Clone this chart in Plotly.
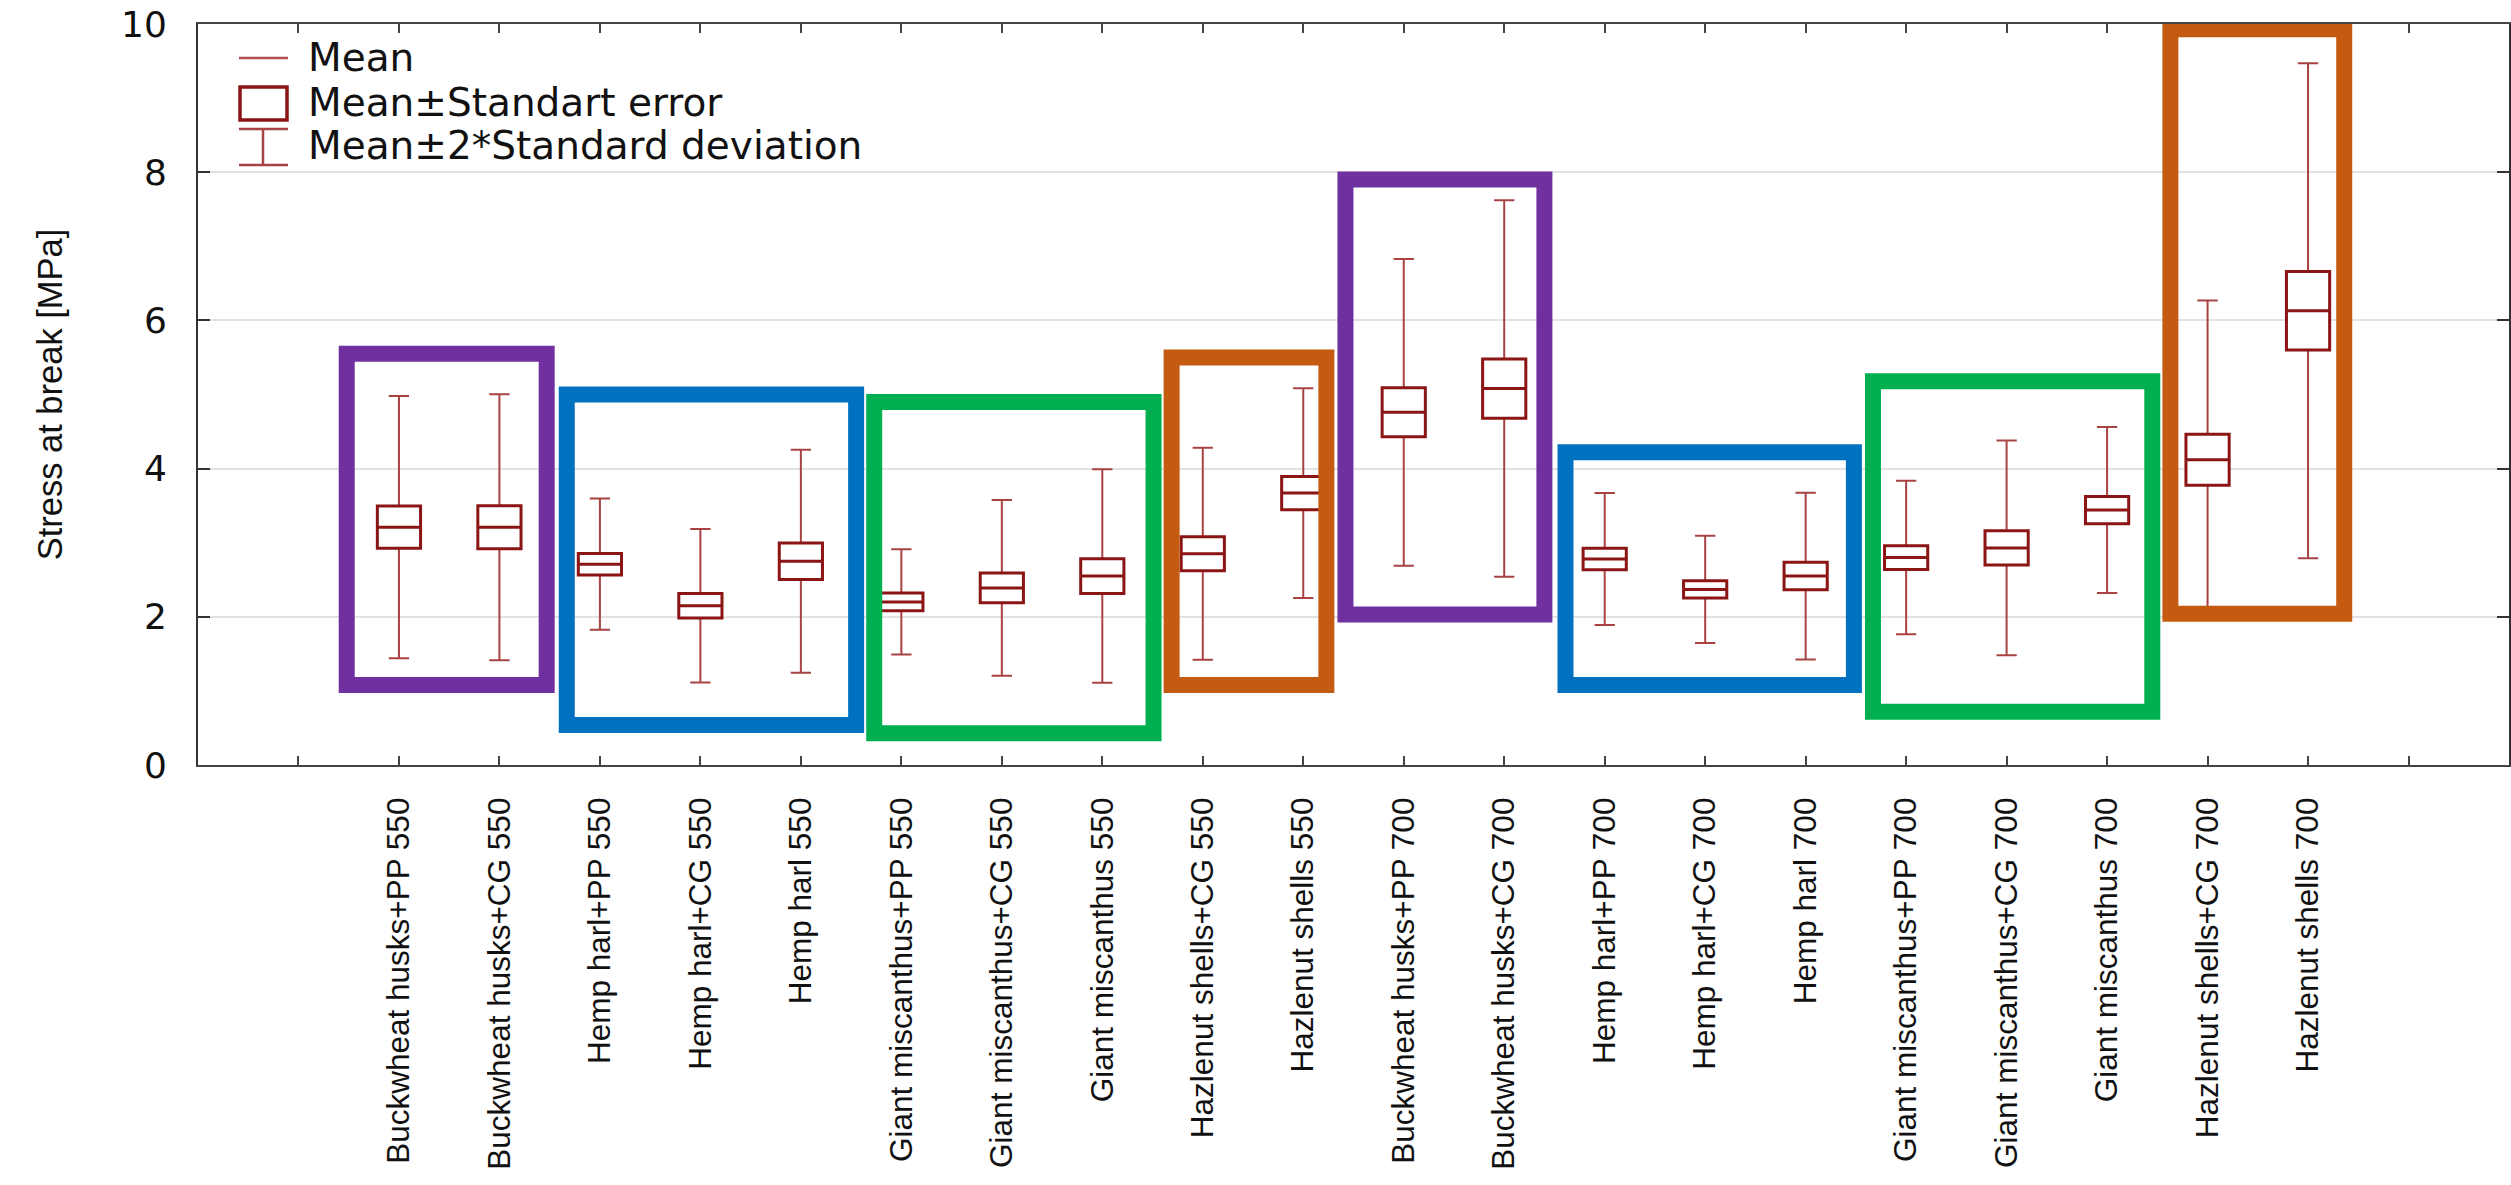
import plotly.graph_objects as go

# Sample groups on the x axis
categories = [
    "Buckwheat husks+PP 550", "Buckwheat husks+CG 550",
    "Hemp harl+PP 550", "Hemp harl+CG 550", "Hemp harl 550",
    "Giant miscanthus+PP 550", "Giant miscanthus+CG 550", "Giant miscanthus 550",
    "Hazlenut shells+CG 550", "Hazlenut shells 550",
    "Buckwheat husks+PP 700", "Buckwheat husks+CG 700",
    "Hemp harl+PP 700", "Hemp harl+CG 700", "Hemp harl 700",
    "Giant miscanthus+PP 700", "Giant miscanthus+CG 700", "Giant miscanthus 700",
    "Hazlenut shells+CG 700", "Hazlenut shells 700",
]

# Stress at break [MPa]: mean, standard error and 2*standard deviation
mean = [3.21, 3.21, 2.71, 2.15, 2.75, 2.20, 2.39, 2.55, 2.85, 3.67,
        4.76, 5.08, 2.78, 2.37, 2.55, 2.80, 2.93, 3.44, 4.12, 6.13]
std_err = [0.285, 0.29, 0.145, 0.165, 0.245, 0.12, 0.20, 0.235, 0.23, 0.225,
           0.33, 0.40, 0.145, 0.115, 0.185, 0.16, 0.23, 0.185, 0.345, 0.53]
two_sd = [1.77, 1.795, 0.885, 1.035, 1.505, 0.71, 1.185, 1.44, 1.43, 1.415,
          2.07, 2.54, 0.89, 0.725, 1.125, 1.035, 1.45, 1.12, 2.15, 3.34]

y_ticks = [0, 2, 4, 6, 8, 10]

# Highlight frames around material groups: (x from, x to, y from, y to, colour)
frames = [
    (0.48, 2.47, 1.08, 5.55, "#7030A0"),
    (2.67, 5.55, 0.54, 5.00, "#0070C0"),
    (5.73, 8.51, 0.43, 4.90, "#00B050"),
    (8.69, 10.23, 1.08, 5.50, "#C55A11"),
    (10.42, 12.40, 2.03, 7.90, "#7030A0"),
    (12.61, 15.48, 1.08, 4.22, "#0070C0"),
    (15.67, 18.45, 0.72, 5.18, "#00B050"),
    (18.63, 20.36, 2.04, 9.93, "#C55A11"),
]

pos = list(range(1, len(categories) + 1))
lo_sd = [m - s for m, s in zip(mean, two_sd)]
hi_sd = [m + s for m, s in zip(mean, two_sd)]
lo_se = [m - s for m, s in zip(mean, std_err)]
hi_se = [m + s for m, s in zip(mean, std_err)]

BOX_RED = "#8b1414"
WHISKER_RED = "#a94343"
BOX_W = 0.43

fig = go.Figure()

# Mean ± 2*SD whiskers (degenerate box at the mean)
fig.add_trace(go.Box(
    x=pos, q1=mean, median=mean, q3=mean,
    lowerfence=lo_sd, upperfence=hi_sd,
    width=BOX_W, whiskerwidth=0.47,
    line=dict(color=WHISKER_RED, width=2),
    fillcolor="rgba(0,0,0,0)", boxpoints=False,
    showlegend=False, hoverinfo="skip",
))

# Mean ± SE boxes with the mean line
fig.add_trace(go.Box(
    x=pos, q1=lo_se, median=mean, q3=hi_se,
    lowerfence=lo_se, upperfence=hi_se,
    width=BOX_W, whiskerwidth=0,
    line=dict(color=BOX_RED, width=3),
    fillcolor="white", boxpoints=False,
    showlegend=False, hoverinfo="skip",
))

for x0, x1, y0, y1, col in frames:
    fig.add_shape(type="rect", xref="x", yref="y", x0=x0, x1=x1, y0=y0, y1=y1,
                  line=dict(color=col, width=16), fillcolor="rgba(0,0,0,0)",
                  layer="above")

# Legend drawn in pixel units inside the plot area
L, T, PW, PH = 198, 24, 2311, 741


def px(xp):
    return (xp - L) / PW


def py(yp):
    return 1 - (yp - T) / PH


leg_shapes = [
    dict(type="line", x0=px(239), x1=px(288), y0=py(58), y1=py(58),
         line=dict(color="#b35050", width=2.5)),
    dict(type="rect", x0=px(240), x1=px(287), y0=py(87), y1=py(120),
         line=dict(color=BOX_RED, width=3.5)),
    dict(type="line", x0=px(239), x1=px(288), y0=py(129), y1=py(129),
         line=dict(color=WHISKER_RED, width=2.5)),
    dict(type="line", x0=px(239), x1=px(288), y0=py(165), y1=py(165),
         line=dict(color=WHISKER_RED, width=2.5)),
    dict(type="line", x0=px(263), x1=px(263), y0=py(129), y1=py(165),
         line=dict(color=WHISKER_RED, width=2.5)),
]
for s in leg_shapes:
    fig.add_shape(xref="paper", yref="paper", layer="above", **s)

legend_text = ["Mean", "Mean±Standart error", "Mean±2*Standard deviation"]
for txt, yc in zip(legend_text, [58, 102, 145]):
    fig.add_annotation(text=txt, xref="paper", yref="paper", x=px(306), y=py(yc),
                       xanchor="left", yanchor="middle", showarrow=False,
                       font=dict(family="DejaVu Sans", size=39, color="#111111"))

sans = "Liberation Sans, Arial, sans-serif"

fig.update_layout(
    width=2511, height=1185,
    margin=dict(l=198, r=2, t=24, b=420, autoexpand=False),
    paper_bgcolor="white", plot_bgcolor="white",
    boxmode="overlay", showlegend=False,
    xaxis=dict(
        range=[-1, 22], tickmode="array", automargin=False,
        tickvals=list(range(0, len(categories) + 2)),
        ticktext=[""] + categories + [""],
        tickangle=-90, ticks="inside", ticklen=9, tickwidth=2, tickcolor="#444",
        showline=True, linecolor="#444", linewidth=2, mirror="ticks",
        showgrid=False, zeroline=False, ticklabelstandoff=18,
        tickfont=dict(family=sans, size=31.5, color="#111111"),
    ),
    yaxis=dict(
        range=[0, 10], tickmode="array", tickvals=y_ticks, automargin=False,
        ticks="inside", ticklen=12, tickwidth=2, tickcolor="#333",
        showline=True, linecolor="#333", linewidth=2, mirror="ticks",
        showgrid=True, gridcolor="#e2e2e2", gridwidth=2, zeroline=False,
        ticklabelstandoff=22,
        tickfont=dict(family="DejaVu Sans", size=36, color="#111111"),
        title=dict(text="Stress at break [MPa]", standoff=48,
                   font=dict(family=sans, size=34.5, color="#111111")),
    ),
)

fig.write_html("out.html")
